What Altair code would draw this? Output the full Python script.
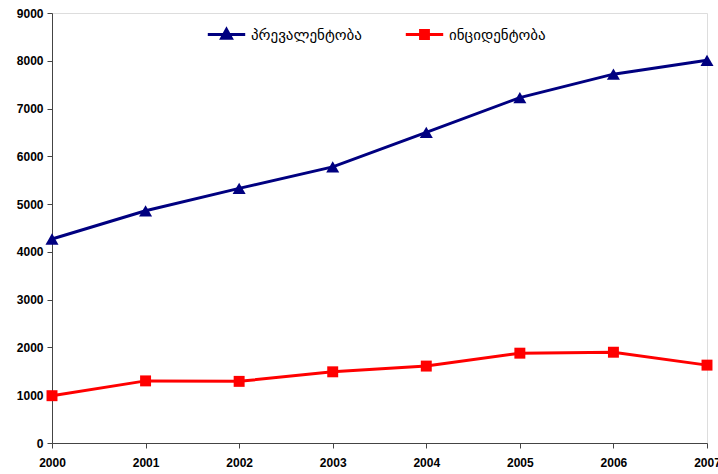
import altair as alt
import pandas as pd

years = [2000, 2001, 2002, 2003, 2004, 2005, 2006, 2007]
prevalence = [4270, 4860, 5330, 5780, 6500, 7230, 7720, 8010]
incidence = [990, 1300, 1290, 1490, 1610, 1880, 1900, 1630]
series_names = ["პრევალენტობა", "ინციდენტობა"]
colors = ["#000080", "#FF0000"]
y_ticks = [0, 1000, 2000, 3000, 4000, 5000, 6000, 7000, 8000, 9000]

df_prev = pd.DataFrame({"year": years, "value": prevalence, "series": series_names[0]})
df_inc = pd.DataFrame({"year": years, "value": incidence, "series": series_names[1]})

x_enc = alt.X("year:Q", scale=alt.Scale(domain=[2000, 2007], nice=False, zero=False),
              axis=alt.Axis(values=years, format="d", title=None, grid=False,
                            labelFont="Liberation Sans", labelFontWeight="bold", labelFontSize=12,
                            labelColor="black", domainColor="#444444", tickColor="#444444",
                            tickSize=5, labelPadding=9, labelFlush=False))
y_enc = alt.Y("value:Q", scale=alt.Scale(domain=[0, 9000], nice=False),
              axis=alt.Axis(values=y_ticks, format="d", title=None, grid=False,
                            labelFont="Liberation Sans", labelFontWeight="bold", labelFontSize=12,
                            labelColor="black", domainColor="#444444", tickColor="#444444",
                            tickSize=5, labelPadding=4))


def series_layer(df, name, color, shape, size, legend_path, lx):
    base = alt.Chart(df).encode(
        x=x_enc, y=y_enc,
        color=alt.Color("series:N", scale=alt.Scale(domain=[name], range=[color]),
                        legend=alt.Legend(title=None, orient="none", legendX=lx, legendY=1,
                                          symbolType=legend_path, symbolSize=1400,
                                          symbolStrokeWidth=3, symbolFillColor=color,
                                          symbolStrokeColor=color, symbolOpacity=1,
                                          labelFont="DejaVu Sans", labelFontSize=15,
                                          labelColor="black", labelOffset=4)))
    line = base.mark_line(strokeWidth=3)
    pts = base.mark_point(filled=True, shape=shape, size=size, opacity=1)
    return alt.layer(line, pts)


prev_path = "M-1,0H1M0,-0.27L0.26,0.2L-0.26,0.2Z"
inc_path = "M-1,0H1M-0.21,-0.21H0.21V0.21H-0.21Z"

chart = alt.layer(
    series_layer(df_prev, series_names[0], colors[0], "triangle-up", 170, prev_path, 154),
    series_layer(df_inc, series_names[1], colors[1], "square", 120, inc_path, 352),
).resolve_scale(color="independent").properties(
    width=655, height=430,
    autosize=alt.AutoSizeParams(type="none"),
    padding={"left": 52, "top": 13, "right": 11, "bottom": 31},
).configure_view(stroke=None).configure(background="white")

chart.save("out.html", embed_options={"renderer": "svg", "actions": False})
